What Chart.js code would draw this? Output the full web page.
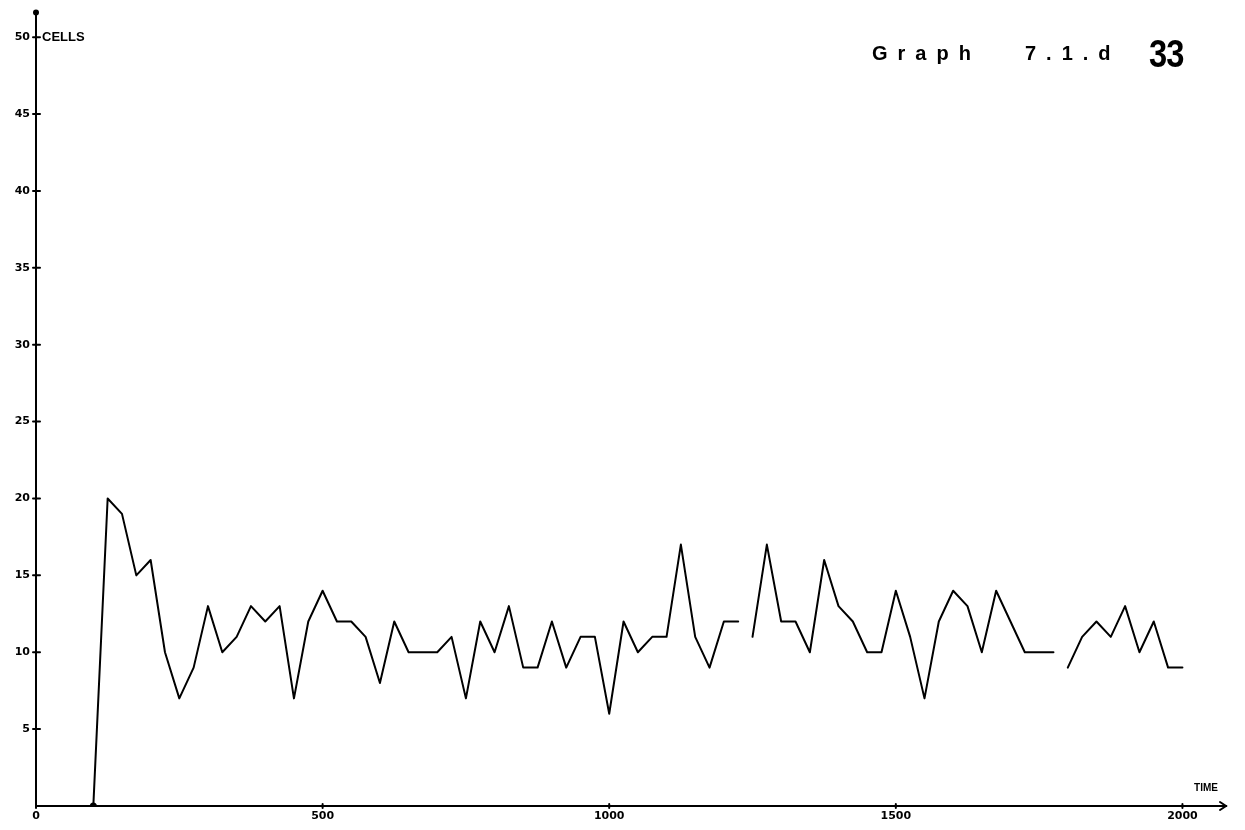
<!DOCTYPE html>
<html>
<head>
<meta charset="utf-8">
<title>Graph 7.1.d</title>
<script src="https://cdn.jsdelivr.net/npm/chart.js@4.4.0/dist/chart.umd.min.js"></script>
<style>
  html, body { margin: 0; padding: 0; background: #fff; }
  #wrap { position: relative; width: 1245px; height: 830px; overflow: hidden; }
  #plot { position: absolute; left: 0; top: 0; }
  .hdr {
    position: absolute;
    font-family: 'Liberation Sans', Arial, sans-serif;
    font-weight: bold;
    color: #000;
    white-space: nowrap;
    line-height: 1;
  }
  #graphWord { left: 872px; top: 43px; font-size: 20px; letter-spacing: 10px; }
  #graphNum  { left: 1025px; top: 43px; font-size: 20px; letter-spacing: 10px; }
  #pageNo    { left: 1149px; top: 35px; font-size: 38px; letter-spacing: -1px;
               transform: scaleX(0.86); transform-origin: left top; }
</style>
</head>
<body>
<div id="wrap">
  <canvas id="plot" width="1245" height="830"></canvas>
  <div class="hdr" id="graphWord">Graph</div>
  <div class="hdr" id="graphNum">7.1.d</div>
  <div class="hdr" id="pageNo">33</div>
</div>
<script>
// Simulation time of each sample
const sampleTimes = [
  100, 125, 150, 175, 200, 225, 250, 275, 300, 325,
  350, 375, 400, 425, 450, 475, 500, 525, 550, 575,
  600, 625, 650, 675, 700, 725, 750, 775, 800, 825,
  850, 875, 900, 925, 950, 975, 1000, 1025, 1050, 1075,
  1100, 1125, 1150, 1175, 1200, 1225, 1250, 1275, 1300, 1325,
  1350, 1375, 1400, 1425, 1450, 1475, 1500, 1525, 1550, 1575,
  1600, 1625, 1650, 1675, 1700, 1725, 1750, 1775, 1800, 1825,
  1850, 1875, 1900, 1925, 1950, 1975, 2000
];

// Number of cells at each sample
const cellCounts = [
  0, 20, 19, 15, 16, 10, 7, 9, 13, 10,
  11, 13, 12, 13, 7, 12, 14, 12, 12, 11,
  8, 12, 10, 10, 10, 11, 7, 12, 10, 13,
  9, 9, 12, 9, 11, 11, 6, 12, 10, 11,
  11, 17, 11, 9, 12, 12, 11, 17, 12, 12,
  10, 16, 13, 12, 10, 10, 14, 11, 7, 12,
  14, 13, 10, 14, 12, 10, 10, 10, 9, 11,
  12, 11, 13, 10, 12, 9, 9
];

// Axis tick labels
const yTickValues = [5, 10, 15, 20, 25, 30, 35, 40, 45, 50];
const xTickValues = [0, 500, 1000, 1500, 2000];

// Segments where the plotter pen was lifted (index of segment start)
const penLifts = [45, 67];

const tickFont = { family: "'DejaVu Sans', sans-serif", size: 11, weight: 'bold' };

const axisMarks = {
  id: 'axisMarks',
  afterDraw(chart) {
    const { ctx, chartArea, scales } = chart;
    const xs = scales.x, ys = scales.y;
    const ax = chartArea.left, ay = chartArea.bottom;
    ctx.save();
    ctx.strokeStyle = '#000';
    ctx.fillStyle = '#000';
    ctx.lineWidth = 2;
    ctx.lineCap = 'round';

    // cross ticks on the vertical axis
    yTickValues.forEach(v => {
      const py = ys.getPixelForValue(v);
      ctx.beginPath();
      ctx.moveTo(ax - 3, py);
      ctx.lineTo(ax + 4, py);
      ctx.stroke();
    });

    // small ticks on the time axis
    xTickValues.forEach(v => {
      const px = xs.getPixelForValue(v);
      ctx.beginPath();
      ctx.moveTo(px, ay - 2);
      ctx.lineTo(px, ay + 2);
      ctx.stroke();
    });

    // arrow at the end of the time axis
    ctx.beginPath();
    ctx.moveTo(chartArea.right - 6, ay - 4);
    ctx.lineTo(chartArea.right, ay);
    ctx.lineTo(chartArea.right - 6, ay + 4);
    ctx.stroke();

    // dot at the top of the vertical axis
    ctx.beginPath();
    ctx.arc(ax, chartArea.top, 3, 0, Math.PI * 2);
    ctx.fill();

    // axis names
    ctx.textBaseline = 'middle';
    ctx.textAlign = 'left';
    ctx.font = "bold 13px 'Liberation Sans', Arial, sans-serif";
    ctx.fillText('CELLS', ax + 6, ys.getPixelForValue(50));
    ctx.textAlign = 'center';
    ctx.font = "bold 10px 'Liberation Sans', Arial, sans-serif";
    ctx.fillText('TIME', 1206, 788);
    ctx.restore();
  }
};

new Chart(document.getElementById('plot'), {
  type: 'line',
  data: {
    datasets: [{
      data: sampleTimes.map((t, i) => ({ x: t, y: cellCounts[i] })),
      borderColor: '#000',
      borderWidth: 2,
      borderJoinStyle: 'round',
      borderCapStyle: 'round',
      tension: 0,
      fill: false,
      pointRadius: ctx => (ctx.dataIndex === 0 ? 3.5 : 0),
      pointBackgroundColor: '#000',
      pointBorderWidth: 0,
      segment: {
        borderColor: ctx => (penLifts.includes(ctx.p0DataIndex) ? 'rgba(0,0,0,0)' : '#000')
      }
    }]
  },
  options: {
    responsive: false,
    animation: false,
    devicePixelRatio: 1,
    layout: { padding: { left: 0, top: 12, right: 19, bottom: 0 } },
    plugins: { legend: { display: false }, tooltip: { enabled: false }, title: { display: false } },
    scales: {
      x: {
        type: 'linear',
        min: 0,
        max: 2076,
        afterFit: s => { s.height = 24; },
        afterBuildTicks: s => { s.ticks = xTickValues.map(v => ({ value: v })); },
        grid: { display: false, drawTicks: false },
        border: { display: true, color: '#000', width: 2 },
        ticks: { color: '#000', font: tickFont, padding: 4, maxRotation: 0, autoSkip: false,
                 callback: v => String(v) }
      },
      y: {
        type: 'linear',
        min: 0,
        max: 51.6,
        afterFit: s => { s.width = 36; },
        afterBuildTicks: s => { s.ticks = yTickValues.map(v => ({ value: v })); },
        grid: { display: false, drawTicks: false },
        border: { display: true, color: '#000', width: 2 },
        ticks: { color: '#000', font: tickFont, padding: 6, autoSkip: false,
                 callback: v => String(v) }
      }
    }
  },
  plugins: [axisMarks]
});
</script>
</body>
</html>
